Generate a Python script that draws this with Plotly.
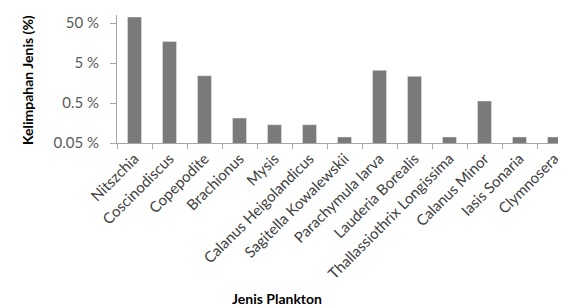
import plotly.graph_objects as go
import numpy as np

categories = ["Nitszchia", "Coscinodiscus", "Copepodite", "Brachionus", "Mysis",
              "Calanus Heigolandicus", "Sagitella Kowalewskii", "Parachymula larva",
              "Lauderia Borealis", "Thallassiothrix Longissima", "Calanus Minor",
              "Iasis Sonaria", "Clymnosera"]
values = [70.6, 17.3, 2.4, 0.21, 0.143, 0.143, 0.0707, 3.28, 2.32, 0.0707, 0.56, 0.0707, 0.0707]
tick_vals = [0.05, 0.5, 5, 50]
tick_text = ["0.05 %", "0.5 %", "5 %", "50 %"]

font = "Lato"
W, H = 566, 307
l, r, t, b = 109, 2, 7, 172
pw, ph = W - l - r, H - t - b

fig = go.Figure(go.Bar(x=categories, y=values, marker_color="#7a7a7a", width=0.4))

fig.update_layout(
    width=W, height=H,
    margin=dict(l=l, r=r, t=t, b=b),
    paper_bgcolor="white", plot_bgcolor="white",
    showlegend=False,
    font=dict(family=font, color="#404040"),
    xaxis=dict(
        tickangle=-45, tickfont=dict(size=15, color="#404040"),
        showline=True, linecolor="#a6a6a6", linewidth=1,
        ticks="outside", tickson="boundaries", ticklen=5, tickcolor="#a6a6a6",
        showgrid=False, automargin=False, range=[-0.5, 12.5],
    ),
    yaxis=dict(
        type="log", range=[np.log10(0.05), np.log10(0.05) + 128 / 40],
        tickvals=tick_vals, ticktext=tick_text,
        tickfont=dict(size=15, color="#595959"),
        showline=True, linecolor="#a6a6a6", linewidth=1,
        ticks="outside", ticklen=6, tickcolor="#a6a6a6", ticklabelstandoff=8,
        showgrid=False, zeroline=False, automargin=False,
    ),
    annotations=[
        dict(text="<b>Jenis Plankton</b>", x=(269 - l) / pw, y=(H - b - 290) / ph,
             xref="paper", yref="paper", xanchor="center", yanchor="middle",
             showarrow=False, font=dict(size=14, color="black")),
        dict(text="<b>Kelimpahan Jenis (%)</b>", x=(19 - l) / pw, y=(H - b - 72) / ph,
             xref="paper", yref="paper", textangle=-90, xanchor="center", yanchor="middle",
             showarrow=False, font=dict(size=14, color="black")),
    ],
)
fig.write_html("out.html")
